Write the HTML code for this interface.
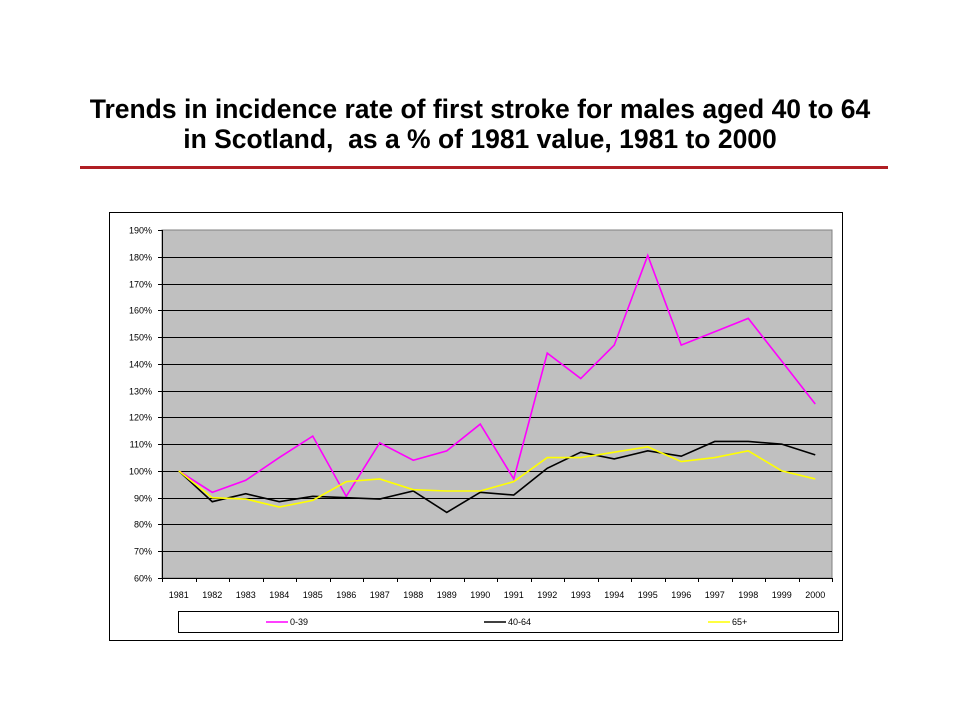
<!DOCTYPE html>
<html><head><meta charset="utf-8"><style>
body{margin:0;background:#fff;font-family:"Liberation Sans",Arial,sans-serif}
#title{position:absolute;left:0;top:94px;width:960px;text-align:center;font-weight:bold;font-size:26.5px;line-height:30px;color:#000}
#rule{position:absolute;left:80px;top:166px;width:808px;height:3px;background:#b01e23}
</style></head><body>
<div id="title">Trends in incidence rate of first stroke for males aged 40 to 64<br>in Scotland,&nbsp; as a % of 1981 value, 1981 to 2000</div>
<div id="rule"></div>
<svg id="chart" width="960" height="720" style="position:absolute;left:0;top:0" xmlns="http://www.w3.org/2000/svg"></svg>
<script>
const years=["1981","1982","1983","1984","1985","1986","1987","1988","1989","1990","1991","1992","1993","1994","1995","1996","1997","1998","1999","2000"];
const s039=[100,92,96.5,105,113,90.5,110.5,104,107.5,117.5,97,144,134.5,147,180.5,147,152,157,141,125];
const s4064=[100,88.5,91.5,88.5,90.5,90,89.5,92.5,84.5,92,91,101,107,104.5,107.5,105.5,111,111,110,106];
const s65=[100,90,89.5,86.5,89,96,97,93,92.5,92.5,96,105,105,107,109,103.5,105,107.5,100,97];
const yTicks=[60,70,80,90,100,110,120,130,140,150,160,170,180,190];
const seriesNames=["0-39","40-64","65+"];
const seriesColors=["#ff00ff","#000000","#ffff00"];
const svg=document.getElementById('chart');const NS="http://www.w3.org/2000/svg";
const L=162,R=832,T=230,B=578,ymin=60,ymax=190;
const bw=(R-L)/years.length;
const x=i=>L+bw*(i+0.5);
const y=v=>B-(v-ymin)/(ymax-ymin)*(B-T);
function mk(t,a){const e=document.createElementNS(NS,t);for(const k in a)e.setAttribute(k,a[k]);svg.appendChild(e);return e;}
let e=mk('rect',{x:109.5,y:212.5,width:733,height:428,fill:'#fff',stroke:'#000'});


e=mk('rect',{x:L,y:T,width:R-L,height:B-T,fill:'#c0c0c0',stroke:'#808080'});


yTicks.forEach(v=>{
 const yy=Math.round(y(v))+0.5;
 if(v>ymin&&v<ymax){const g=mk('line',{x1:L,x2:R,y1:yy,y2:yy,stroke:'#000'});
 
 }
 mk('line',{x1:L-4,x2:L,y1:yy,y2:yy,stroke:'#000'});
 const t=mk('text',{x:L-10,y:yy+3,'font-size':9,'text-anchor':'end'});t.textContent=v+'%';
 
 
});
mk('line',{x1:L+0.5,x2:L+0.5,y1:T,y2:B,stroke:'#000'});
mk('line',{x1:L,x2:R,y1:B+0.5,y2:B+0.5,stroke:'#000'});
years.forEach((yr,i)=>{
 const xx=Math.round(L+bw*i)+0.5;mk('line',{x1:xx,x2:xx,y1:B,y2:B+4,stroke:'#000'});
 const t=mk('text',{x:x(i),y:B+20,'font-size':9,'text-anchor':'middle'});t.textContent=yr;
 
 
});
mk('line',{x1:R+0.5,x2:R+0.5,y1:B,y2:B+4,stroke:'#000'});
[s039,s4064,s65].forEach((s,k)=>{
 const p=mk('polyline',{points:s.map((v,i)=>x(i)+','+y(v)).join(' '),fill:'none',stroke:seriesColors[k],'stroke-width':1.6});
 
 
});
e=mk('rect',{x:178.5,y:611.5,width:660,height:21,fill:'#fff',stroke:'#000'});


const lx=[266,484,708];
seriesNames.forEach((n,k)=>{
 mk('line',{x1:lx[k],x2:lx[k]+22,y1:622,y2:622,stroke:seriesColors[k],'stroke-width':1.6});
 const t=mk('text',{x:lx[k]+24,y:625,'font-size':9});t.textContent=n;
 
 
});
</script>
</body></html>
